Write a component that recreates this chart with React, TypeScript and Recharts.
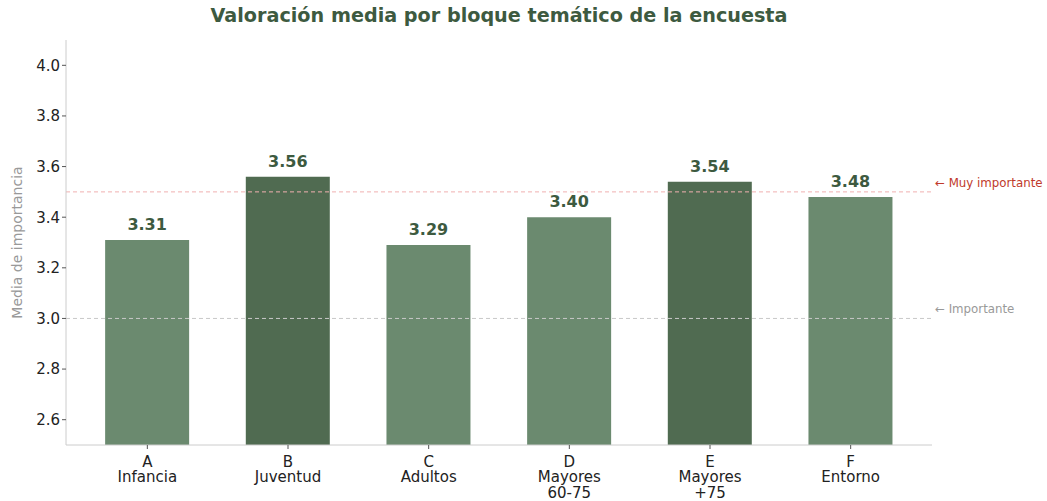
import { BarChart, Bar, XAxis, YAxis, ReferenceLine, Cell, LabelList } from 'recharts';

const categories = ['A\nInfancia', 'B\nJuventud', 'C\nAdultos', 'D\nMayores\n60-75', 'E\nMayores\n+75', 'F\nEntorno'];
const means = [3.31, 3.56, 3.29, 3.40, 3.54, 3.48];
const yTicks = [2.6, 2.8, 3.0, 3.2, 3.4, 3.6, 3.8, 4.0];
const thresholds = [
  { value: 3.5, label: '← Muy importante', color: '#c0392b', line: '#f0b0b0' },
  { value: 3.0, label: '← Importante', color: '#999999', line: '#c8c8c8' },
];

const LIGHT = '#6b8a6f';
const DARK = '#506b51';
const FONT = 'DejaVu Sans, sans-serif';

const data = categories.map((c, i) => ({ name: c, media: means[i] }));

const CatTick = (props: any) => {
  const { x, y, payload } = props;
  const lines = String(payload.value).split('\n');
  return (
    <g transform={`translate(${x},${y})`}>
      {lines.map((l, i) => (
        <text key={i} x={0} y={16 + i * 15.3} textAnchor="middle" fontSize={15} fill="#222" fontFamily={FONT}>{l}</text>
      ))}
    </g>
  );
};

const sideLabel = (text: string, color: string) => (props: any) => {
  const { viewBox } = props;
  return (
    <text x={viewBox.x + viewBox.width + 3} y={viewBox.y - 5} fontSize={11.8} fill={color} fontFamily={FONT}>{text}</text>
  );
};

const yLabel = (props: any) => {
  const { viewBox } = props;
  const cy = viewBox.y + viewBox.height / 2;
  return (
    <text x={17} y={cy} transform={`rotate(-90, 17, ${cy})`} textAnchor="middle" dominantBaseline="central"
      fontSize={14} fill="#999" fontFamily={FONT}>Media de importancia</text>
  );
};

export default function App() {
  return (
    <div style={{ position: 'fixed', top: 0, left: 0, width: 1047, height: 501, background: '#fff' }}>
      <BarChart width={1047} height={501} data={data} margin={{ top: 40, right: 115, bottom: 0, left: 0 }} barCategoryGap="20%">
        <XAxis dataKey="name" interval={0} tick={<CatTick />} height={56} padding={{ left: 11, right: 11 }}
          axisLine={{ stroke: '#cccccc' }} tickLine={{ stroke: '#555' }} tickSize={4} />
        <YAxis domain={[2.5, 4.1]} ticks={yTicks} allowDataOverflow width={66} tickFormatter={(v: number) => v.toFixed(1)}
          tick={{ fontSize: 15, fill: '#222', fontFamily: FONT }} axisLine={{ stroke: '#cccccc' }} tickLine={{ stroke: '#555' }} tickSize={4}
          label={yLabel} />
        {thresholds.map(t => (
          <ReferenceLine key={t.value} y={t.value} stroke={t.line} strokeDasharray="4 3" label={sideLabel(t.label, t.color)} />
        ))}
        <Bar dataKey="media" isAnimationActive={false}>
          {data.map((d, i) => <Cell key={i} fill={d.media >= 3.5 ? DARK : LIGHT} />)}
          <LabelList dataKey="media" position="top" offset={10} formatter={(v: any) => Number(v).toFixed(2)}
            style={{ fontSize: 16, fontWeight: 700, fill: '#3d5a40', fontFamily: FONT }} />
        </Bar>
      </BarChart>
      <div style={{ position: 'absolute', top: 4, left: 66, width: 866, zIndex: 2, textAlign: 'center', fontFamily: FONT, fontWeight: 700, fontSize: 19.2, color: '#3d5a40' }}>
        Valoración media por bloque temático de la encuesta
      </div>
    </div>
  );
}
